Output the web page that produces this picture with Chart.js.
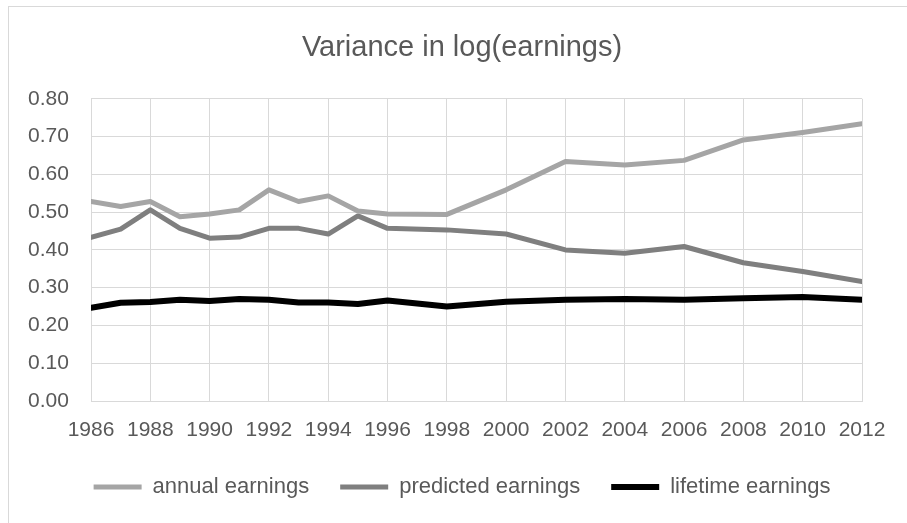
<!DOCTYPE html>
<html>
<head>
<meta charset="utf-8">
<title>Variance in log(earnings)</title>
<script src="https://cdn.jsdelivr.net/npm/chart.js@4/dist/chart.umd.min.js"></script>
<style>
  html, body { margin: 0; padding: 0; background: #fff; overflow: hidden; }
  #wrap { position: relative; width: 907px; height: 523px; }
  #frame {
    position: absolute; left: 8px; top: 6px; width: 1000px; height: 1000px;
    border: 1px solid #d9d9d9; pointer-events: none;
  }
</style>
</head>
<body>
<div id="wrap">
  <canvas id="chart" width="907" height="523"></canvas>
  <div id="frame"></div>
</div>
<script>
// survey years (annual until 1996, every two years after)
const years = [1986, 1987, 1988, 1989, 1990, 1991, 1992, 1993, 1994, 1995, 1996,
    1998, 2000, 2002, 2004, 2006, 2008, 2010, 2012];

const annualEarnings = [0.528, 0.515, 0.528, 0.488, 0.495, 0.506, 0.559, 0.528, 0.543, 0.503, 0.495,
    0.494, 0.559, 0.634, 0.625, 0.637, 0.691, 0.711, 0.734];
const predictedEarnings = [0.433, 0.455, 0.506, 0.457, 0.431, 0.434, 0.457, 0.457, 0.442, 0.490, 0.457,
    0.453, 0.442, 0.400, 0.391, 0.409, 0.366, 0.343, 0.316];
const lifetimeEarnings = [0.247, 0.260, 0.262, 0.268, 0.265, 0.270, 0.268, 0.261, 0.261, 0.257, 0.266,
    0.250, 0.263, 0.268, 0.270, 0.268, 0.272, 0.275, 0.268];

const seriesNames = ['annual earnings', 'predicted earnings', 'lifetime earnings'];
const xTicks = [1986, 1988, 1990, 1992, 1994, 1996, 1998, 2000, 2002, 2004, 2006, 2008, 2010, 2012];
const yTicks = [0, 0.1, 0.2, 0.3, 0.4, 0.5, 0.6, 0.7, 0.8];

const textColor = '#595959';
const gridColor = '#d9d9d9';
const font = "'Liberation Sans', Arial, sans-serif";

function toPoints(values) {
    return years.map((y, i) => ({ x: y, y: values[i] }));
}

function line(label, values, color, width) {
    return {
        label: label,
        data: toPoints(values),
        borderColor: color,
        backgroundColor: color,
        borderWidth: width,
        borderCapStyle: 'round',
        borderJoinStyle: 'round',
        pointRadius: 0,
        tension: 0,
        fill: false
    };
}

const ctx = document.getElementById('chart').getContext('2d');
new Chart(ctx, {
    type: 'line',
    data: {
        datasets: [
            line(seriesNames[0], annualEarnings, '#a5a5a5', 5),
            line(seriesNames[1], predictedEarnings, '#7f7f7f', 5),
            line(seriesNames[2], lifetimeEarnings, '#000000', 6)
        ]
    },
    options: {
        responsive: false,
        animation: false,
        devicePixelRatio: 1,
        layout: { padding: { left: 62, right: 45, top: 0, bottom: 15 } },
        plugins: {
            title: {
                display: true,
                text: 'Variance in log(earnings)',
                color: textColor,
                font: { family: font, size: 29, weight: 'normal' },
                padding: { top: 31, bottom: 33 }
            },
            legend: {
                position: 'bottom',
                labels: {
                    color: textColor,
                    font: { family: font, size: 22 },
                    usePointStyle: true,
                    pointStyle: 'line',
                    pointStyleWidth: 48,
                    padding: 31
                }
            },
            tooltip: { enabled: false }
        },
        scales: {
            x: {
                type: 'linear',
                min: xTicks[0],
                max: xTicks[xTicks.length - 1],
                afterBuildTicks: (axis) => { axis.ticks = xTicks.map(v => ({ value: v })); },
                afterFit: (axis) => { axis.height = 44; },
                ticks: {
                    color: textColor,
                    font: { family: font, size: 21 },
                    padding: 17,
                    maxRotation: 0,
                    autoSkip: false,
                    callback: (v) => String(v)
                },
                grid: { color: gridColor, drawTicks: false },
                border: { color: gridColor }
            },
            y: {
                min: yTicks[0],
                max: yTicks[yTicks.length - 1],
                afterBuildTicks: (axis) => { axis.ticks = yTicks.map(v => ({ value: v })); },
                afterFit: (axis) => { axis.width = 29; },
                ticks: {
                    color: textColor,
                    font: { family: font, size: 21 },
                    mirror: true,
                    crossAlign: 'near',
                    padding: -63,
                    callback: (v) => v.toFixed(2)
                },
                grid: { color: gridColor, drawTicks: false },
                border: { color: gridColor }
            }
        }
    }
});
</script>
</body>
</html>
